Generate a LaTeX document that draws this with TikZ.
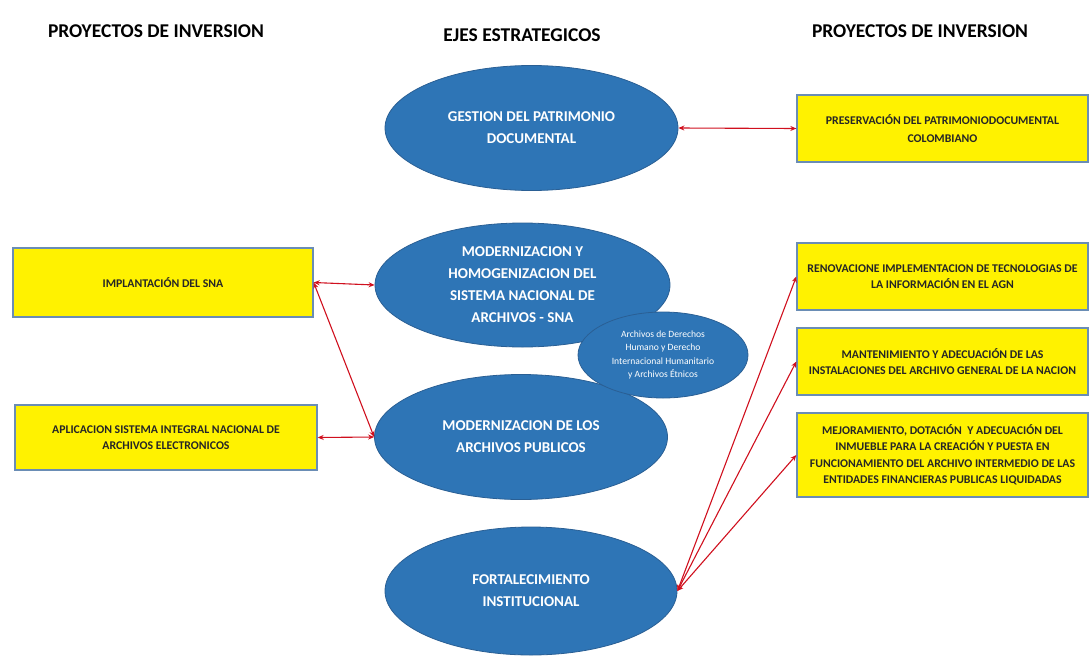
\documentclass[tikz,border=0pt]{standalone}
\usepackage{fontspec}
\setmainfont{Carlito}
\usetikzlibrary{shapes.geometric,arrows.meta}
\definecolor{ellfill}{HTML}{2E75B6}
\definecolor{elldraw}{HTML}{2A5F94}
\definecolor{boxline}{HTML}{6A8DB5}
\definecolor{arr}{HTML}{D0101E}
\tikzset{
  ybox/.style={draw=boxline, line width=1.3pt, fill=yellow, inner sep=0pt, align=center,
    font=\bfseries\fontsize{11.8}{16}\selectfont, text=black!85},
  eje/.style={ellipse, draw=elldraw, line width=0.8pt, fill=ellfill, inner sep=0pt, align=center,
    text=white, font=\bfseries\fontsize{15}{22}\selectfont},
  hdr/.style={font=\bfseries\fontsize{19.5}{22}\selectfont, text=black},
  link/.style={draw=arr, line width=1.1pt, {Stealth[length=6pt,width=5pt]}-{Stealth[length=6pt,width=5pt]}}
}
\begin{document}
\begin{tikzpicture}[x=1pt,y=-1pt]
\useasboundingbox (0,0) rectangle (1089,656);
% headers
\node[hdr] (h1) at (156,31) {PROYECTOS DE INVERSION};
\node[hdr] (h2) at (522,35) {EJES ESTRATEGICOS};
\node[hdr] (h3) at (920,31) {PROYECTOS DE INVERSION};
% ellipses
\node[eje, minimum width=293, minimum height=125] (e1) at (531.5,128) {GESTION DEL PATRIMONIO\\DOCUMENTAL};
\node[eje, minimum width=295, minimum height=124] (e2) at (522.5,285) {MODERNIZACION Y\\HOMOGENIZACION DEL\\SISTEMA NACIONAL DE\\ARCHIVOS - SNA};
\node[eje, minimum width=293, minimum height=125] (e3) at (521,437) {MODERNIZACION DE LOS\\ARCHIVOS PUBLICOS};
\node[eje, minimum width=292, minimum height=128] (e4) at (531,591) {FORTALECIMIENTO\\INSTITUCIONAL};
\node[eje, minimum width=170, minimum height=86, font=\fontsize{9.6}{13.5}\selectfont] (e5) at (663,355) {Archivos de Derechos\\Humano y Derecho\\Internacional Humanitario\\y Archivos Étnicos};
% right boxes
\node[ybox, minimum width=291, minimum height=67, font=\bfseries\fontsize{11.8}{18}\selectfont] (r1) at (942.5,128.5) {PRESERVACIÓN DEL PATRIMONIODOCUMENTAL\\COLOMBIANO};
\node[ybox, minimum width=291, minimum height=67] (r2) at (942.5,276.5) {RENOVACIONE IMPLEMENTACION DE TECNOLOGIAS DE\\LA INFORMACIÓN EN EL AGN};
\node[ybox, minimum width=291, minimum height=67] (r3) at (942.5,361.5) {MANTENIMIENTO Y ADECUACIÓN DE LAS\\INSTALACIONES DEL ARCHIVO GENERAL DE LA NACION};
\node[ybox, minimum width=291, minimum height=84, font=\bfseries\fontsize{11.8}{16.5}\selectfont] (r4) at (942.5,455) {MEJORAMIENTO, DOTACIÓN \ Y ADECUACIÓN DEL\\INMUEBLE PARA LA CREACIÓN Y PUESTA EN\\FUNCIONAMIENTO DEL ARCHIVO INTERMEDIO DE LAS\\ENTIDADES FINANCIERAS PUBLICAS LIQUIDADAS};
% left boxes
\node[ybox, minimum width=300, minimum height=69] (l1) at (163,282.5) {IMPLANTACIÓN DEL SNA};
\node[ybox, minimum width=302, minimum height=65] (l2) at (166,437.5) {APLICACION SISTEMA INTEGRAL NACIONAL DE\\ARCHIVOS ELECTRONICOS};
% connectors
\draw[link] (e1.east) -- (r1.west);
\draw[link] (l1.east) -- (e2.west);
\draw[link] (l1.east) -- (e3.west);
\draw[link] (l2.east) -- (e3.west);
\draw[link] (e4.east) -- (r2.west);
\draw[link] (e4.east) -- (r3.west);
\draw[link] (e4.east) -- (r4.west);
\end{tikzpicture}
\end{document}
